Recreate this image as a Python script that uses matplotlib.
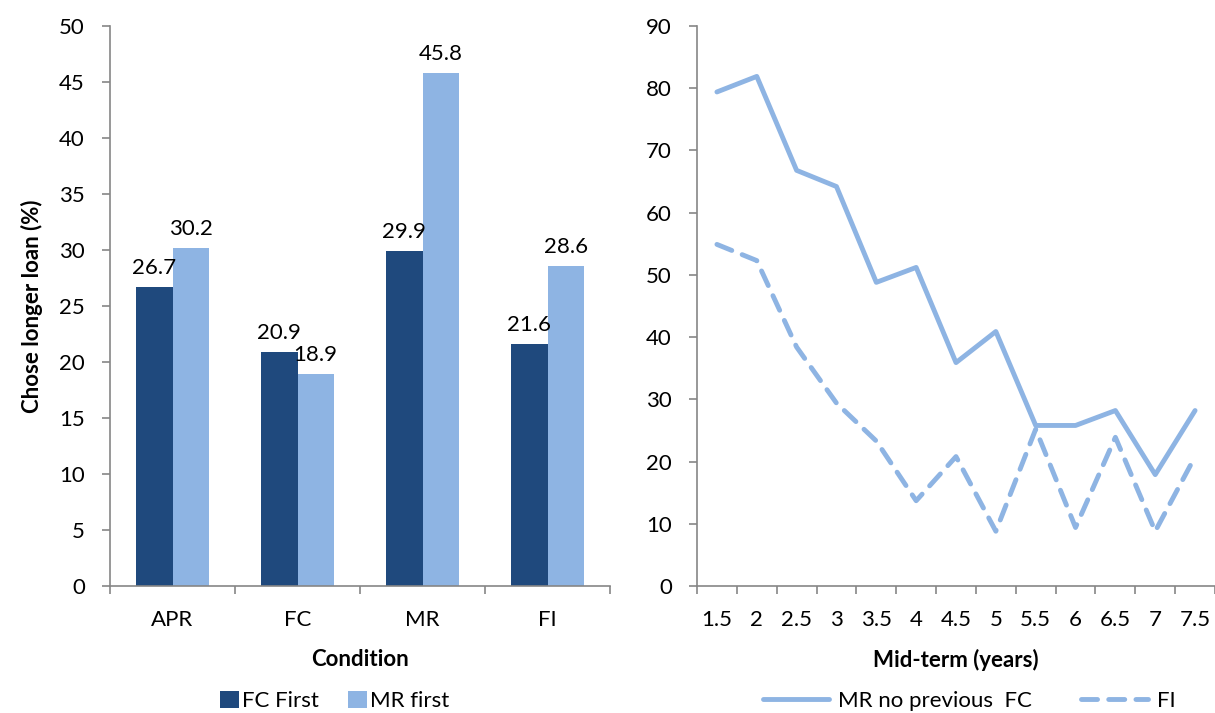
import numpy as np
import matplotlib.pyplot as plt

plt.rcParams['font.family'] = ['Lato', 'DejaVu Sans']

# left panel: bar chart
conditions = ['APR', 'FC', 'MR', 'FI']
fc_first = [26.7, 20.9, 29.9, 21.6]
mr_first = [30.2, 18.9, 45.8, 28.6]

# right panel: line chart
mid_terms = ['1.5', '2', '2.5', '3', '3.5', '4', '4.5', '5', '5.5', '6', '6.5', '7', '7.5']
mr_no_prev_fc = [79.4, 81.9, 66.8, 64.2, 48.8, 51.2, 35.9, 40.9, 25.8, 25.8, 28.2, 17.9, 28.2]
fi_line = [54.9, 52.3, 38.4, 29.4, 23.3, 13.7, 20.8, 8.8, 25.2, 9.4, 23.9, 8.8, 20.8]

dark = '#1F497D'
light = '#8EB4E3'
spine_col = '#868686'
fs = 16

fig = plt.figure(figsize=(12.15, 7.13), dpi=100)

# ---- bars ----
ax1 = fig.add_axes([110 / 1215, 127 / 713, 500 / 1215, 560 / 713])
x = np.arange(len(conditions))
w = 0.29
b1 = ax1.bar(x - w / 2, fc_first, w, color=dark, label='FC First')
b2 = ax1.bar(x + w / 2, mr_first, w, color=light, label='MR first')
for bars, vals in [(b1, fc_first), (b2, mr_first)]:
    for r, v in zip(bars, vals):
        ax1.text(r.get_x() + r.get_width() / 2, v + 0.8, f'{v:.1f}', ha='center', va='bottom', fontsize=fs)

ax1.set_xlim(-0.5, len(conditions) - 0.5)
ax1.set_ylim(0, 50)
ax1.set_yticks(np.arange(0, 51, 5))
ax1.set_xticks(x)
ax1.set_xticklabels(conditions)
ax1.set_xticks(np.arange(-0.5, len(conditions), 1), minor=True)
ax1.tick_params(axis='x', which='major', length=0, pad=17, labelsize=fs)
ax1.tick_params(axis='x', which='minor', length=6, color=spine_col, width=1.2)
ax1.tick_params(axis='y', length=6, color=spine_col, width=1.2, labelsize=fs, pad=12)
ax1.set_xlabel('Condition', fontweight='bold', fontsize=fs, labelpad=14)
ax1.set_ylabel('Chose longer loan (%)', fontweight='bold', fontsize=fs, labelpad=12)
for s in ['top', 'right']:
    ax1.spines[s].set_visible(False)
for s in ['left', 'bottom']:
    ax1.spines[s].set_color(spine_col)
    ax1.spines[s].set_linewidth(1.2)
ax1.legend(loc='center', bbox_to_anchor=(0.45, -0.205), ncol=2, frameon=False, fontsize=fs,
           handlelength=0.85, handleheight=0.85, handletextpad=0.15, columnspacing=1.3)

# ---- lines ----
ax2 = fig.add_axes([697 / 1215, 127 / 713, 518 / 1215, 560 / 713])
xi = np.arange(len(mid_terms))
ax2.plot(xi, mr_no_prev_fc, color=light, lw=3.5, solid_capstyle='round', label='MR no previous  FC')
ax2.plot(xi, fi_line, color=light, lw=3.5, ls=(0, (3.3, 2.3)), dash_capstyle='round', label='FI')
ax2.set_xlim(-0.5, len(mid_terms) - 0.5)
ax2.set_ylim(0, 90)
ax2.set_yticks(np.arange(0, 91, 10))
ax2.set_xticks(xi)
ax2.set_xticklabels(mid_terms)
ax2.set_xticks(np.arange(-0.5, len(mid_terms), 1), minor=True)
ax2.tick_params(axis='x', which='major', length=0, pad=17, labelsize=fs)
ax2.tick_params(axis='x', which='minor', length=6, color=spine_col, width=1.2)
ax2.tick_params(axis='y', length=6, color=spine_col, width=1.2, labelsize=fs, pad=12)
ax2.set_xlabel('Mid-term (years)', fontweight='bold', fontsize=fs, labelpad=14)
for s in ['top', 'right']:
    ax2.spines[s].set_visible(False)
for s in ['left', 'bottom']:
    ax2.spines[s].set_color(spine_col)
    ax2.spines[s].set_linewidth(1.2)
ax2.legend(loc='center', bbox_to_anchor=(0.525, -0.205), ncol=2, frameon=False, fontsize=fs,
           handlelength=3.0, handletextpad=0.4, columnspacing=2.2)

fig.savefig('out.png', dpi=100)
